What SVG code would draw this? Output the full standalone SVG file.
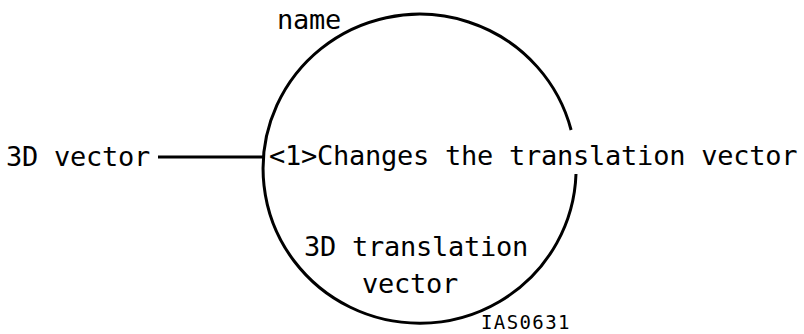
<svg xmlns="http://www.w3.org/2000/svg" width="804" height="334" viewBox="0 0 804 334">
<style>
.t{font-family:"DejaVu Sans Mono","Liberation Mono",monospace;font-size:27px;fill:#000;letter-spacing:-0.25px}
.s{font-family:"DejaVu Sans Mono","Liberation Mono",monospace;font-size:19px;fill:#000;letter-spacing:1.4px}
.l{fill:none;stroke:#000;stroke-width:3}
</style>
<rect width="804" height="334" fill="#fff"/>
<g id="process">
<path class="l" d="M571.1,130 A156.5,154.5 0 1 0 576,174"/>
<text class="t" x="277" y="29">name</text>
<text class="t" x="269" y="165">&lt;1&gt;Changes the translation vector</text>
<text class="t" x="304" y="256">3D translation</text>
<text class="t" x="362" y="293">vector</text>
</g>
<g id="input">
<text class="t" x="6" y="166">3D vector</text>
</g>
<g id="connectors">
<line class="l" x1="158" y1="157" x2="263" y2="157"/>
</g>
<text class="s" x="481" y="329">IAS0631</text>
</svg>
